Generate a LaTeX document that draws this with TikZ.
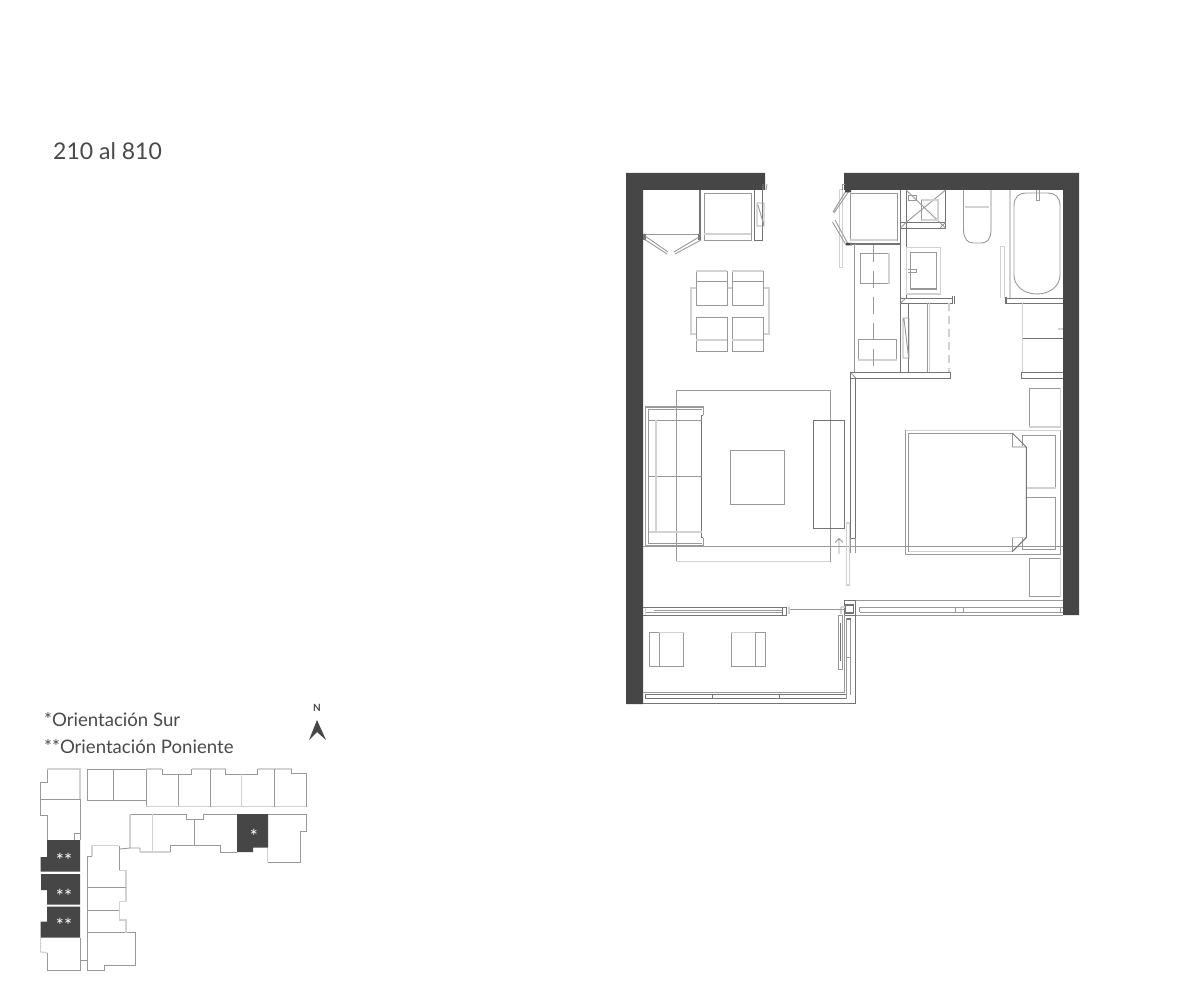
\documentclass[tikz,border=0pt]{standalone}
\usepackage{fontspec}
\setmainfont{Lato}
\definecolor{wallc}{HTML}{464646}
\definecolor{txtc}{HTML}{4A4A4A}
\definecolor{midc}{HTML}{999999}
\definecolor{darkl}{HTML}{747474}
\definecolor{lightc}{HTML}{D2D2D2}
\tikzset{
  wall/.style={fill=wallc,draw=none},
  thin line/.style={draw=midc,line width=0.9pt},
  dark line/.style={draw=darkl,line width=0.95pt},
  heavy line/.style={draw=darkl,line width=1.5pt},
  light line/.style={draw=lightc,line width=1.3pt},
  unit/.style={fill=wallc,draw=none},
  key/.style={draw=midc,line width=0.9pt},
  keylight/.style={draw=lightc,line width=1.2pt},
  lab/.style={text=txtc,inner sep=0pt,anchor=base west},
  star/.style={text=white,inner sep=0pt,font=\fontsize{19}{19}\selectfont}
}
\begin{document}
\begin{tikzpicture}[x=1pt,y=-1pt]
\useasboundingbox (0,0) rectangle (1201,1000);
\fill[white] (0,0) rectangle (1201,1000);
% ---------- labels
\node[lab,font=\fontsize{23}{24}\selectfont] (title) at (53,160) {210 al 810};
\node[lab,font=\fontsize{18.6}{19}\selectfont] (sur) at (44,726) {*Orientación Sur};
\node[lab,font=\fontsize{18.6}{19}\selectfont] (pon) at (44,753) {**Orientación Poniente};
\node[text=txtc,inner sep=0pt,font=\fontsize{10}{10}\selectfont\bfseries] (north) at (317,708) {N};
\fill[wallc] (317,720) -- (326,740) -- (317,732) -- (309,740) -- cycle;
% ---------- floor plan: walls
\fill[wall] (626,173) -- (765,173) -- (765,190) -- (643,190) -- (643,704) -- (626,704) -- cycle;
\fill[wall] (844,173) -- (1079,173) -- (1079,615) -- (1063,615) -- (1063,190) -- (844,190) -- cycle;
% closet left
\draw[heavy line] (700,190) -- (700,240);
\draw[thin line] (643,234) -- (700,234);
\draw[dark line] (645,234) -- (645,240) (698,234) -- (698,240);
\draw[thin line] (645,236) -- (668,252) (644,239) -- (667,254);
\draw[thin line] (699,237) -- (674,252) (701,240) -- (675,254);
\fill[darkl] (643,234) rectangle (645,240) (698,238) rectangle (701,240);
% fridge left
\draw[thin line] (704,193) rectangle (751,240);
\draw[light line] (704,234) -- (751,234);
\draw[dark line] (754.5,190) -- (754.5,240) -- (762.5,240) -- (762.5,190);
\draw[thin line] (757,203) rectangle (764,226) (758,205) -- (764,226);
\draw[thin line] (763,190) -- (763,184) (767,184) -- (766,190);
% dining
\draw[light line] (696,288) -- (691,288) -- (691,334) -- (696,334);
\draw[light line] (763,288) -- (769,288) -- (769,334) -- (763,334);
\draw[light line] (727,288) -- (732,288);
\foreach \xa/\xb in {696/727,732/763}{
  \draw[thin line] (\xa,271) rectangle (\xb,305);
  \draw[thin line] (\xa,281.7) -- (\xb,281.7);
  \draw[light line] (\xa,271) -- (\xb,271);
  \draw[thin line] (\xa,317) rectangle (\xb,351);
  \draw[light line] (\xa,340) -- (\xb,340);
}
% rug, sofa, table, tv
\draw[thin line] (830,561.5) -- (830,390.3) -- (676.3,390.3) -- (676.3,561.5);
\draw[light line] (676.3,561.5) -- (830,561.5);
\draw[thin line,line width=1.3pt] (703.3,415) -- (703.3,407) -- (645.8,407) -- (645.8,545.6) -- (703.3,545.6) -- (703.3,537.5);
\draw[dark line] (703.3,415) -- (701.5,415) -- (701.5,537.5) -- (703.3,537.5);
\draw[thin line] (701.5,409.3) -- (648.5,409.3) -- (648.5,543.3) -- (701.5,543.3);
\draw[thin line] (648.5,420) -- (701.5,420) (648.5,476.3) -- (701.5,476.3);
\draw[light line] (656,420) -- (656,532) (648.5,532) -- (701.5,532);
\draw[thin line] (730.3,450.3) rectangle (784.6,504.6);
\draw[dark line] (813.3,420.3) rectangle (844.6,528.3);
\draw[thin line] (839,554) -- (839,538.5) (835,542.5) -- (839,538.5) -- (843,542.5);
% long section line
\draw[thin line] (643,546.6) -- (1063,546.6);
% partition
\draw[dark line] (855.6,378) -- (855.6,538) -- (850.3,538) -- (850.3,372) -- (855.6,372);
\draw[thin line] (850.3,372) -- (855.6,378);
\draw[thin line] (850.3,538) -- (850.3,553) (855.6,538) -- (855.6,553);
\draw[light line] (846.5,585) -- (846.5,523) -- (849.6,523) -- (849.6,585) -- cycle;
% right door & fridge
\draw[thin line] (850,193) rectangle (897,240);
\draw[light line] (850,240) -- (897,240);
\draw[light line,line width=1pt] (839,190) rectangle (842.7,267);
\draw[thin line] (849,191) -- (834,213) (846.5,190) -- (833,212);
\draw[thin line] (835,220) -- (848,244) (832.5,222) -- (846,245);
\fill[wallc] (845,190) rectangle (851,192.5) (846,243) rectangle (852,245.5);
\draw[thin line] (842,184) -- (842,190) (842,184) -- (845,184);
\draw[heavy line] (850,244) -- (900.6,244);
\draw[thin line] (854.3,244) -- (854.3,372);
% bathroom core
\draw[heavy line] (900.6,190) -- (900.6,303) -- (900.6,372);
\draw[dark line] (906,190) -- (906,228);
\draw[dark line] (945.5,190) -- (945.5,228) -- (900.6,228);
\draw[dark line] (900.6,222.5) -- (945.5,222.5);
\draw[thin line] (906,190) -- (945.5,228) (945.5,190) -- (906,222.5) (900.6,228) -- (906,222.5) (945.5,222.5) -- (940,228);
\draw[thin line] (908,195) rectangle (916,200);
\draw[light line] (921,200) -- (938,200) -- (938,220) -- (921,220);
\draw[thin line] (921,200) -- (921,220);
\draw[dark line] (906,228) -- (906,298);
% toilet
\draw[thin line] (963.5,190) -- (963.5,230) .. controls (963.5,239) and (968,243) .. (973,243) -- (981.5,243) .. controls (987,243) and (991,239) .. (991,230);
\draw[light line] (991,190) -- (991,230);
\draw[light line] (965,207) -- (989,207);
% tub
\draw[light line] (1010,190) -- (1010,298);
\draw[thin line] (1014,275) -- (1014,206) .. controls (1014,197) and (1019,193) .. (1026,193) -- (1048,193) .. controls (1055,193) and (1060,197) .. (1060,206) -- (1060,275) .. controls (1060,286) and (1050,294) .. (1037,294) .. controls (1024,294) and (1014,286) .. (1014,275);
\draw[thin line] (1036,190) -- (1036,200) -- (1039,200) -- (1039,190);
% strip beside tub
\draw[light line,line width=1pt] (1000.6,298) -- (1000.6,247) -- (1004.6,247) -- (1004.6,298);
\draw[dark line] (1006,298) -- (1063,298) (1006,303) -- (1063,303);
\draw[heavy line] (1006,296.5) -- (1006,304);
% vanity
\draw[light line] (906.6,294) -- (906.6,247.6) -- (940.6,247.6) -- (940.6,294) -- cycle;
\draw[thin line,line width=1.8pt] (910.5,252.5) rectangle (936.5,289);
\draw[thin line] (908,269) -- (916,269) -- (916,272) -- (908,272);
\draw[dark line] (900.6,298) -- (951.5,298) (900.6,303) -- (951.5,303);
\draw[thin line] (900.6,303) -- (906,298);
\draw[dark line] (952,296) -- (952,304) (954,296) -- (954,304);
\draw[draw=lightc,line width=1.3pt,dash pattern=on 8pt off 5pt] (949,303) -- (949,372);
% wardrobe section
\draw[dark line] (908.6,303) -- (908.6,372);
\draw[thin line] (903,318) rectangle (909,358) (904,319) -- (908.5,357);
\draw[thin line] (927,303) -- (927,372);
\draw[light line] (929.5,303) -- (929.5,372);
% washer / rects
\draw[thin line] (860,253) rectangle (889,283.6);
\draw[light line] (889,253) -- (889,283.6);
\draw[thin line] (858,339) rectangle (896.6,360);
\draw[light line] (858,360) -- (896.6,360);
\draw[thin line,dash pattern=on 17pt off 9pt] (873,245) -- (873,372);
% cross walls
\draw[dark line] (850,372) -- (950.5,372) -- (950.5,378) -- (850,378);
\draw[dark line] (1063,372) -- (1021,372) -- (1021,378) -- (1063,378);
% right closet
\draw[light line] (1022.6,303) -- (1022.6,372);
\draw[dark line] (1023,338.6) -- (1063,338.6);
\draw[light line] (1058,329) -- (1063,329);
% nightstands
\draw[thin line] (1029,388) rectangle (1060.6,427);
\draw[light line] (1060.6,388) -- (1060.6,427) -- (1029,427);
\draw[thin line] (1029,558) rectangle (1060.6,596.6);
\draw[light line] (1060.6,558) -- (1060.6,596.6);
% bed
\draw[thin line] (905.6,430.6) rectangle (1060,554);
\draw[light line] (905.6,430.6) -- (1060,430.6);
\draw[thin line] (1022.6,447) -- (1022.6,435) -- (1055.6,435) -- (1055.6,488) -- (1026.3,488);
\draw[thin line] (1026.3,497) -- (1055.6,497) -- (1055.6,549.6) -- (1022.6,549.6) -- (1022.6,537.6);
\draw[light line] (1012.3,447) -- (1026.3,447) (1012.3,537.6) -- (1026.3,537.6) (1026.3,488) -- (1055.6,488);
\draw[thin line] (1012.3,433) -- (908.6,433) -- (908.6,551.6) -- (1012.3,551.6);
\draw[light line] (908.6,551.6) -- (1012.3,551.6);
\draw[thin line] (1012.3,433) -- (1012.3,447) (1012.3,551.6) -- (1012.3,537.6);
\draw[dark line] (1012.3,433) -- (1026.3,447) -- (1026.3,537.6) -- (1012.3,551.6);
% front glazing, right
\draw[dark line] (844.6,600.6) rectangle (855.6,615);
\draw[heavy line] (845.5,604.8) rectangle (853.5,613);
\draw[thin line] (855.6,600.3) -- (1063,600.3) (855.6,615.3) -- (1063,615.3);
\draw[thin line] (859.5,607) -- (1063,607) (859.5,612) -- (1063,612);
\draw[thin line] (859.5,607) -- (859.5,612) (955.5,607) -- (955.5,612) (963.5,607) -- (963.5,612) (1060,607) -- (1060,612);
% balcony side
\draw[dark line] (855.6,615) -- (855.6,703.3) -- (643,703.3);
\draw[thin line] (844.6,615) -- (844.6,692.3) -- (643,692.3);
\draw[dark line] (645,694.6) rectangle (846.6,698.6);
\draw[heavy line] (645.5,694.6) -- (645.5,698.6);
\draw[dark line] (712.6,694.6) -- (712.6,698.6) (779.6,694.6) -- (779.6,698.6);
\draw[thin line] (846.6,698.6) -- (846.6,618.6) -- (850.6,618.6) -- (850.6,694.6);
\draw[thin line] (846.6,657) -- (850.6,657);
\draw[heavy line] (846.6,618.8) -- (850.6,618.8);
\draw[thin line] (838.6,615) rectangle (842,669);
\draw[heavy line,line width=1.3pt] (840.3,623) -- (840.3,661);
\draw[light line] (841,607) -- (845,607) (841,607) -- (841,614);
\draw[thin line] (789,609) -- (845,609);
% balcony glazing left
\draw[dark line] (643,607.3) -- (786.6,607.3) (643,615.6) -- (786.6,615.6);
\draw[thin line] (654,610) -- (783,610) (645,612.6) -- (783,612.6);
\draw[dark line] (782.5,607.3) -- (782.5,615.6) (786.6,607.3) -- (786.6,615.6);
\draw[light line] (789,607) -- (789,614) (645.5,608) -- (645.5,615);
% armchairs
\draw[thin line] (649.3,632.6) rectangle (683.6,666.6) (659.3,632.6) -- (659.3,666.6);
\draw[light line] (659.3,632.6) -- (683.6,632.6);
\draw[thin line] (731.3,632.6) rectangle (765.6,666.6) (755.3,632.6) -- (755.3,666.6);
\draw[light line] (731.3,632.6) -- (755.3,632.6);
% ---------- key plan
\fill[unit] (47,840) -- (80,840) -- (80,871.6) -- (40.6,871.6) -- (40.6,857) -- (47,857) -- cycle;
\fill[unit] (41,874) -- (80,874) -- (80,904.6) -- (47,904.6) -- (47,890) -- (41,890) -- cycle;
\fill[unit] (47,906.6) -- (80,906.6) -- (80,937.6) -- (40.6,937.6) -- (40.6,921.6) -- (47,921.6) -- cycle;
\fill[unit] (237,814) -- (268,814) -- (268,847.6) -- (253,847.6) -- (253,852) -- (237,852) -- cycle;
\node[star] (s1) at (64,860) {**};
\node[star] (s2) at (64,896) {**};
\node[star] (s3) at (64,925) {**};
\node[star] (s4) at (254,836) {*};
% top left block
\draw[key] (47,840) -- (47,815) -- (40.6,815) -- (40.6,782) -- (47,782) -- (47,769);
\draw[keylight] (47,769) -- (80,769) -- (80,799);
\draw[key] (40.6,799) -- (80,799) -- (80,840) (74.6,840) -- (74.6,833.6) -- (80,833.6);
% bottom left
\draw[keylight] (40.6,937.6) -- (40.6,952) -- (47,952.6);
\draw[key] (47,952.6) -- (47,970.6) -- (80.6,970.6) -- (80.6,960) -- (86.6,960);
\draw[key] (80,937.6) -- (80,960);
% right column
\draw[key] (87.3,856) -- (87.3,970.6) -- (104,970.6) -- (104,965.6) -- (135.6,965.6) -- (135.6,932.6) -- (87.3,932.6);
\draw[key] (87.3,856) -- (92,856);
\draw[keylight] (92,856) -- (92,845.8) -- (119.3,845.8);
\draw[key] (119.3,845.8) -- (119.3,870.6);
\draw[keylight] (119.3,870.6) -- (126,870.6) -- (126,901.6) -- (119.3,901.6) -- (119.3,910);
\draw[key] (87.3,887) -- (126,887) (87.3,910) -- (119.3,910);
\draw[keylight] (119.3,910) -- (119.3,920) -- (126,920) -- (126,932.6);
% top row
\draw[key] (87.3,800.6) -- (87.3,769) -- (146.3,769) -- (146.3,800.6) -- cycle (113.3,769) -- (113.3,800.6);
\draw[keylight] (146.3,769) -- (162.3,769);
\draw[key] (146.3,800.6) -- (146.3,806.6) (162.3,769) -- (162.3,774) -- (178.3,774) -- (178.3,807);
\draw[keylight] (146.3,806.6) -- (306.6,806.6);
\draw[key] (178.3,774) -- (191.6,774) -- (191.6,769);
\draw[keylight] (191.6,769) -- (225.6,769);
\draw[key] (225.6,769) -- (225.6,774) -- (257.6,774) -- (257.6,769);
\draw[keylight] (257.6,769) -- (291.6,769);
\draw[key] (291.6,769) -- (291.6,773.6) -- (306.6,773.6) -- (306.6,807);
\draw[key] (210.6,769) -- (210.6,806.6) (274.3,769) -- (274.3,806.6);
\draw[keylight] (241.6,774) -- (241.6,806.6);
% lower row
\draw[key] (130,814) -- (186.6,814) -- (186.6,819.6) -- (203.3,819.6) -- (203.3,814) -- (237,814) (268,814) -- (306.6,814) -- (306.6,831.6) -- (300,831.6) -- (300,862) -- (267.6,862);
\draw[keylight] (267.6,862) -- (267.6,847.6);
\draw[keylight] (130,814) -- (130,848);
\draw[key] (130,848) -- (120,849) (130,848) -- (140,848) -- (140,852);
\draw[keylight] (140,852) -- (170,852);
\draw[key] (170,852) -- (170,845.6) -- (220.6,845.6) -- (220.6,852) -- (237,852);
\draw[keylight] (152.6,814) -- (152.6,852);
\draw[key] (194.3,819.6) -- (194.3,845.6);
\end{tikzpicture}
\end{document}
